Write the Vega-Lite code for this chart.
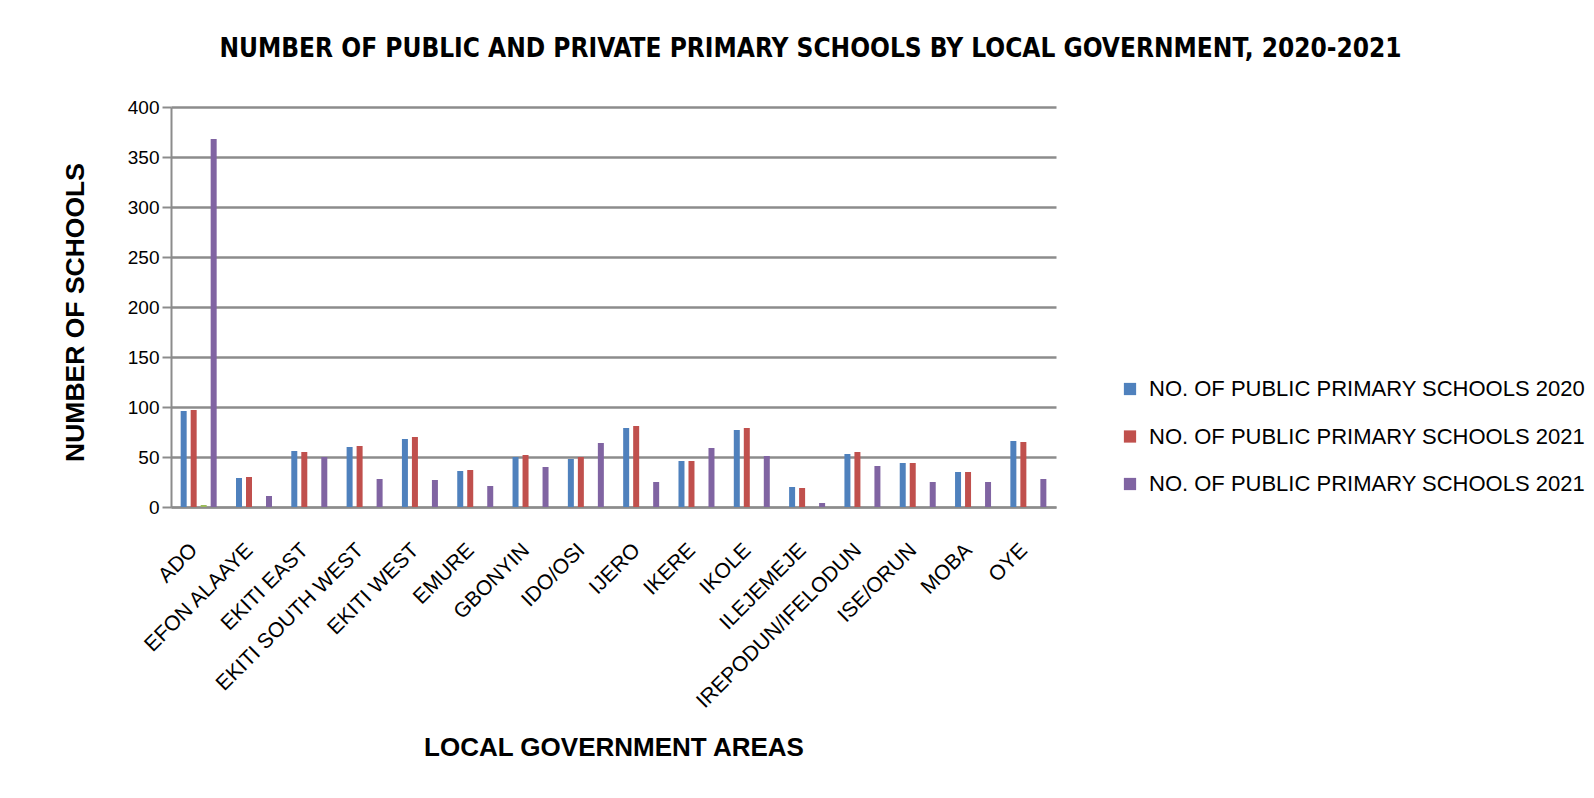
{
  "$schema": "https://vega.github.io/schema/vega-lite/v6.json",
  "width": 885,
  "height": 400,
  "autosize": {"type": "none"},
  "padding": {"left": 171, "top": 107, "right": 538, "bottom": 291},
  "background": "white",
  "title": {
    "text": "NUMBER OF PUBLIC AND PRIVATE PRIMARY SCHOOLS  BY LOCAL GOVERNMENT, 2020-2021",
    "font": "DejaVu Sans Condensed, Liberation Sans, sans-serif",
    "fontSize": 26,
    "fontWeight": "bold",
    "color": "black",
    "anchor": "middle",
    "dx": 197,
    "offset": 36
  },
  "data": {
    "values": [
      {"lga": "ADO", "series": "NO. OF PUBLIC  PRIMARY SCHOOLS 2020", "schools": 96},
      {"lga": "ADO", "series": "NO. OF PUBLIC  PRIMARY SCHOOLS 2021", "schools": 97},
      {"lga": "ADO", "series": "OTHER", "schools": 2},
      {"lga": "ADO", "series": "NO. OF PUBLIC  PRIMARY SCHOOLS 2021 ", "schools": 368},
      {"lga": "EFON ALAAYE", "series": "NO. OF PUBLIC  PRIMARY SCHOOLS 2020", "schools": 29},
      {"lga": "EFON ALAAYE", "series": "NO. OF PUBLIC  PRIMARY SCHOOLS 2021", "schools": 30},
      {"lga": "EFON ALAAYE", "series": "NO. OF PUBLIC  PRIMARY SCHOOLS 2021 ", "schools": 11},
      {"lga": "EKITI EAST", "series": "NO. OF PUBLIC  PRIMARY SCHOOLS 2020", "schools": 56},
      {"lga": "EKITI EAST", "series": "NO. OF PUBLIC  PRIMARY SCHOOLS 2021", "schools": 55},
      {"lga": "EKITI EAST", "series": "NO. OF PUBLIC  PRIMARY SCHOOLS 2021 ", "schools": 50},
      {"lga": "EKITI SOUTH WEST", "series": "NO. OF PUBLIC  PRIMARY SCHOOLS 2020", "schools": 60},
      {"lga": "EKITI SOUTH WEST", "series": "NO. OF PUBLIC  PRIMARY SCHOOLS 2021", "schools": 61},
      {"lga": "EKITI SOUTH WEST", "series": "NO. OF PUBLIC  PRIMARY SCHOOLS 2021 ", "schools": 28},
      {"lga": "EKITI WEST", "series": "NO. OF PUBLIC  PRIMARY SCHOOLS 2020", "schools": 68},
      {"lga": "EKITI WEST", "series": "NO. OF PUBLIC  PRIMARY SCHOOLS 2021", "schools": 70},
      {"lga": "EKITI WEST", "series": "NO. OF PUBLIC  PRIMARY SCHOOLS 2021 ", "schools": 27},
      {"lga": "EMURE", "series": "NO. OF PUBLIC  PRIMARY SCHOOLS 2020", "schools": 36},
      {"lga": "EMURE", "series": "NO. OF PUBLIC  PRIMARY SCHOOLS 2021", "schools": 37},
      {"lga": "EMURE", "series": "NO. OF PUBLIC  PRIMARY SCHOOLS 2021 ", "schools": 21},
      {"lga": "GBONYIN", "series": "NO. OF PUBLIC  PRIMARY SCHOOLS 2020", "schools": 50},
      {"lga": "GBONYIN", "series": "NO. OF PUBLIC  PRIMARY SCHOOLS 2021", "schools": 52},
      {"lga": "GBONYIN", "series": "NO. OF PUBLIC  PRIMARY SCHOOLS 2021 ", "schools": 40},
      {"lga": "IDO/OSI", "series": "NO. OF PUBLIC  PRIMARY SCHOOLS 2020", "schools": 48},
      {"lga": "IDO/OSI", "series": "NO. OF PUBLIC  PRIMARY SCHOOLS 2021", "schools": 50},
      {"lga": "IDO/OSI", "series": "NO. OF PUBLIC  PRIMARY SCHOOLS 2021 ", "schools": 64},
      {"lga": "IJERO", "series": "NO. OF PUBLIC  PRIMARY SCHOOLS 2020", "schools": 79},
      {"lga": "IJERO", "series": "NO. OF PUBLIC  PRIMARY SCHOOLS 2021", "schools": 81},
      {"lga": "IJERO", "series": "NO. OF PUBLIC  PRIMARY SCHOOLS 2021 ", "schools": 25},
      {"lga": "IKERE", "series": "NO. OF PUBLIC  PRIMARY SCHOOLS 2020", "schools": 46},
      {"lga": "IKERE", "series": "NO. OF PUBLIC  PRIMARY SCHOOLS 2021", "schools": 46},
      {"lga": "IKERE", "series": "NO. OF PUBLIC  PRIMARY SCHOOLS 2021 ", "schools": 59},
      {"lga": "IKOLE", "series": "NO. OF PUBLIC  PRIMARY SCHOOLS 2020", "schools": 77},
      {"lga": "IKOLE", "series": "NO. OF PUBLIC  PRIMARY SCHOOLS 2021", "schools": 79},
      {"lga": "IKOLE", "series": "NO. OF PUBLIC  PRIMARY SCHOOLS 2021 ", "schools": 51},
      {"lga": "ILEJEMEJE", "series": "NO. OF PUBLIC  PRIMARY SCHOOLS 2020", "schools": 20},
      {"lga": "ILEJEMEJE", "series": "NO. OF PUBLIC  PRIMARY SCHOOLS 2021", "schools": 19},
      {"lga": "ILEJEMEJE", "series": "NO. OF PUBLIC  PRIMARY SCHOOLS 2021 ", "schools": 4},
      {"lga": "IREPODUN/IFELODUN", "series": "NO. OF PUBLIC  PRIMARY SCHOOLS 2020", "schools": 53},
      {"lga": "IREPODUN/IFELODUN", "series": "NO. OF PUBLIC  PRIMARY SCHOOLS 2021", "schools": 55},
      {"lga": "IREPODUN/IFELODUN", "series": "NO. OF PUBLIC  PRIMARY SCHOOLS 2021 ", "schools": 41},
      {"lga": "ISE/ORUN", "series": "NO. OF PUBLIC  PRIMARY SCHOOLS 2020", "schools": 44},
      {"lga": "ISE/ORUN", "series": "NO. OF PUBLIC  PRIMARY SCHOOLS 2021", "schools": 44},
      {"lga": "ISE/ORUN", "series": "NO. OF PUBLIC  PRIMARY SCHOOLS 2021 ", "schools": 25},
      {"lga": "MOBA", "series": "NO. OF PUBLIC  PRIMARY SCHOOLS 2020", "schools": 35},
      {"lga": "MOBA", "series": "NO. OF PUBLIC  PRIMARY SCHOOLS 2021", "schools": 35},
      {"lga": "MOBA", "series": "NO. OF PUBLIC  PRIMARY SCHOOLS 2021 ", "schools": 25},
      {"lga": "OYE", "series": "NO. OF PUBLIC  PRIMARY SCHOOLS 2020", "schools": 66},
      {"lga": "OYE", "series": "NO. OF PUBLIC  PRIMARY SCHOOLS 2021", "schools": 65},
      {"lga": "OYE", "series": "NO. OF PUBLIC  PRIMARY SCHOOLS 2021 ", "schools": 28}
    ]
  },
  "mark": {"type": "bar", "width": 6},
  "encoding": {
    "x": {
      "field": "lga",
      "type": "nominal",
      "sort": null,
      "scale": {"paddingInner": 0, "paddingOuter": 0},
      "axis": {
        "title": "LOCAL GOVERNMENT AREAS",
        "titleFont": "Liberation Sans",
        "titleFontSize": 26,
        "titleFontWeight": "bold",
        "titleColor": "black",
        "titlePadding": 27,
        "labelAngle": -45,
        "labelAlign": "right",
        "labelBaseline": "top",
        "labelFont": "Liberation Sans",
        "labelFontSize": 21,
        "labelColor": "black",
        "labelPadding": 32,
        "labelOffset": -12,
        "labelLimit": 400,
        "ticks": false,
        "domainColor": "#8c8c8c",
        "domainWidth": 2
      }
    },
    "xOffset": {
      "field": "series",
      "type": "nominal",
      "scale": {
        "domain": ["NO. OF PUBLIC  PRIMARY SCHOOLS 2020", "NO. OF PUBLIC  PRIMARY SCHOOLS 2021", "OTHER", "NO. OF PUBLIC  PRIMARY SCHOOLS 2021 "],
        "range": [7.67, 47.67],
        "paddingInner": 0,
        "paddingOuter": 0
      }
    },
    "y": {
      "field": "schools",
      "type": "quantitative",
      "scale": {"domain": [0, 400]},
      "axis": {
        "title": "NUMBER OF SCHOOLS",
        "titleFont": "Liberation Sans",
        "titleFontSize": 26.5,
        "titleFontWeight": "bold",
        "titleColor": "black",
        "titlePadding": 38,
        "titleY": 205,
        "values": [0, 50, 100, 150, 200, 250, 300, 350, 400],
        "labelFont": "Liberation Sans",
        "labelFontSize": 19,
        "labelColor": "black",
        "labelPadding": 3,
        "tickSize": 9,
        "tickColor": "#8c8c8c",
        "tickWidth": 2,
        "domainColor": "#8c8c8c",
        "domainWidth": 2,
        "gridColor": "#8c8c8c",
        "gridWidth": 2.5
      }
    },
    "color": {
      "field": "series",
      "type": "nominal",
      "scale": {
        "domain": ["NO. OF PUBLIC  PRIMARY SCHOOLS 2020", "NO. OF PUBLIC  PRIMARY SCHOOLS 2021", "OTHER", "NO. OF PUBLIC  PRIMARY SCHOOLS 2021 "],
        "range": ["#4F81BD", "#C0504D", "#9BBB59", "#8064A2"]
      },
      "legend": {
        "title": null,
        "values": ["NO. OF PUBLIC  PRIMARY SCHOOLS 2020", "NO. OF PUBLIC  PRIMARY SCHOOLS 2021", "NO. OF PUBLIC  PRIMARY SCHOOLS 2021 "],
        "orient": "none",
        "legendX": 948,
        "legendY": 271,
        "symbolType": "square",
        "symbolSize": 150,
        "symbolStrokeWidth": 0,
        "labelFont": "Liberation Sans",
        "labelFontSize": 22,
        "labelColor": "black",
        "labelLimit": 600,
        "labelOffset": 8,
        "rowPadding": 25.5
      }
    }
  },
  "config": {
    "view": {"stroke": null}
  }
}
